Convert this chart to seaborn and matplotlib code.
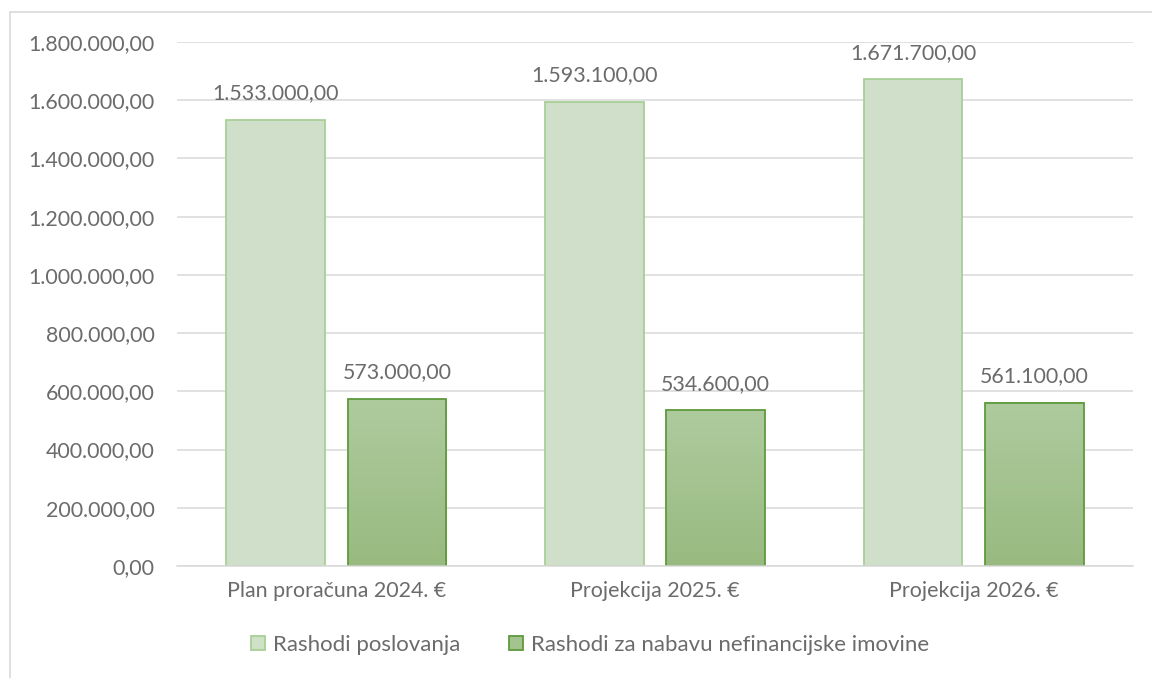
import matplotlib
matplotlib.use("Agg")
import matplotlib.pyplot as plt
import seaborn as sns
import pandas as pd
import numpy as np
from matplotlib.colors import LinearSegmentedColormap
from matplotlib.patches import Rectangle

categories = ["Plan proračuna 2024. €", "Projekcija 2025. €", "Projekcija 2026. €"]
series_names = ["Rashodi poslovanja", "Rashodi za nabavu nefinancijske imovine"]
rashodi_poslovanja = [1533000.00, 1593100.00, 1671700.00]
rashodi_nefin = [573000.00, 534600.00, 561100.00]
yticks = [0, 200000, 400000, 600000, 800000, 1000000, 1200000, 1400000, 1600000, 1800000]

df = pd.DataFrame({
    "cat": categories * 2,
    "series": [series_names[0]] * 3 + [series_names[1]] * 3,
    "value": rashodi_poslovanja + rashodi_nefin,
})

def hr(v):
    s = f"{v:,.2f}"
    return s.replace(",", "X").replace(".", ",").replace("X", ".")

sns.set_theme(style="white")
plt.rcParams["font.family"] = ["Lato", "DejaVu Sans"]
TXT = "#6b6b6b"

fig = plt.figure(figsize=(11.52, 6.78), dpi=100)
ax = fig.add_axes([177/1152, 1-566/678, (1133-177)/1152, (566-42)/678])

fill1, edge1 = "#cfe2c7", "#a9cf96"
fill2, edge2 = "#a3c38f", "#5e9a3b"

sns.barplot(data=df, x="cat", y="value", hue="series", order=categories,
            hue_order=series_names, palette=[fill1, fill2], width=0.76, gap=0.185,
            ax=ax, legend=False, linewidth=1.3)

patches = ax.patches
n = len(categories)
for i, p in enumerate(patches[:2*n]):
    p.set_edgecolor(edge1 if i < n else edge2)

# gradient for second series
cmap = LinearSegmentedColormap.from_list("g", ["#98ba80", "#aecb9e"])
grad = np.linspace(0, 1, 256).reshape(-1, 1)
for p in patches[n:2*n]:
    x0, y0 = p.get_x(), p.get_y()
    w, h = p.get_width(), p.get_height()
    ax.imshow(grad, extent=[x0, x0+w, y0, y0+h], origin="lower", cmap=cmap,
              aspect="auto", zorder=p.get_zorder(), clip_path=p, clip_on=True)
    p.set_facecolor("none")
    p.set_zorder(p.get_zorder()+0.1)

ax.set_xlim(-0.5, len(categories)-0.5)
ax.set_ylim(0, 1800000)
ax.set_yticks(yticks)
ax.set_yticklabels([hr(v) for v in yticks])
ax.yaxis.grid(True, color="#d9d9d9", linewidth=1.1)
ax.set_axisbelow(True)
for s in ["top", "right", "left"]:
    ax.spines[s].set_visible(False)
ax.spines["bottom"].set_color("#d9d9d9")
ax.spines["bottom"].set_linewidth(1.1)
ax.tick_params(axis="both", length=0, labelsize=15.4, colors=TXT)
ax.tick_params(axis="y", pad=16)
ax.tick_params(axis="x", pad=11)
ax.set_xlabel("")
ax.set_ylabel("")

for p in patches[:2*n]:
    v = p.get_height()
    ax.annotate(hr(v), (p.get_x()+p.get_width()/2, v), xytext=(0, 12),
                textcoords="offset points", ha="center", va="bottom",
                fontsize=15.4, color=TXT)

handles = [Rectangle((0, 0), 1, 1, facecolor=fill1, edgecolor=edge1, linewidth=1.3),
           Rectangle((0, 0), 1, 1, facecolor=fill2, edgecolor=edge2, linewidth=1.3)]
leg = fig.legend(handles, series_names, loc="center", bbox_to_anchor=(590/1152, 1-645/678),
                 ncol=2, frameon=False, fontsize=16, handlelength=0.63, handleheight=0.63,
                 handletextpad=0.36, columnspacing=2.2)
for t in leg.get_texts():
    t.set_color(TXT)

# outer chart border
fig.add_artist(plt.Line2D([10/1152, 1], [1-12/678, 1-12/678], transform=fig.transFigure,
                          color="#d9d9d9", linewidth=1.2))
fig.add_artist(plt.Line2D([10/1152, 10/1152], [0, 1-12/678], transform=fig.transFigure,
                          color="#d9d9d9", linewidth=1.2))

fig.savefig("out.png", dpi=100)
